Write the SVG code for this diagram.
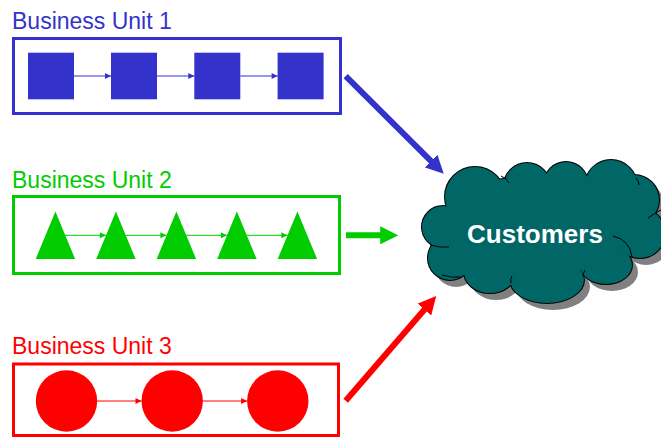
<svg xmlns="http://www.w3.org/2000/svg" width="661" height="439" viewBox="0 0 661 439">
  <style>
    .label { font-family: "Liberation Sans", Arial, sans-serif; font-size: 23px; }
    .blue { fill: #3333CC; }
    .green { fill: #00CC00; }
    .red { fill: #FF0000; }
    .frame { fill: none; stroke-width: 3; }
    .thin { stroke-width: 1; fill: none; }
    .big { stroke-width: 6; fill: none; }
    .fold { fill: none; stroke: #000000; stroke-width: 1; }
    .cloud-text { font-family: "Liberation Sans", Arial, sans-serif; font-size: 26px; font-weight: bold; fill: #FFFFFF; }
  </style>
  <defs>
    <!-- small flow arrowheads -->
    <marker id="smallBlue" viewBox="0 0 10 10" refX="10" refY="5" markerUnits="userSpaceOnUse" markerWidth="8" markerHeight="6" orient="auto">
      <path d="M0,0 L10,5 L0,10 z" fill="#3333CC"/>
    </marker>
    <marker id="smallGreen" viewBox="0 0 10 10" refX="10" refY="5" markerUnits="userSpaceOnUse" markerWidth="8" markerHeight="6" orient="auto">
      <path d="M0,0 L10,5 L0,10 z" fill="#00CC00"/>
    </marker>
    <marker id="smallRed" viewBox="0 0 10 10" refX="10" refY="5" markerUnits="userSpaceOnUse" markerWidth="8" markerHeight="6" orient="auto">
      <path d="M0,0 L10,5 L0,10 z" fill="#FF0000"/>
    </marker>
    <!-- heavy arrowheads toward the cloud -->
    <marker id="bigBlue" viewBox="0 0 10 10" refX="1" refY="5" markerWidth="3" markerHeight="3" orient="auto">
      <path d="M0,0 L10,5 L0,10 z" fill="#3333CC"/>
    </marker>
    <marker id="bigGreen" viewBox="0 0 10 10" refX="1" refY="5" markerWidth="3" markerHeight="3" orient="auto">
      <path d="M0,0 L10,5 L0,10 z" fill="#00CC00"/>
    </marker>
    <marker id="bigRed" viewBox="0 0 10 10" refX="1" refY="5" markerWidth="3" markerHeight="3" orient="auto">
      <path d="M0,0 L10,5 L0,10 z" fill="#FF0000"/>
    </marker>
    <!-- cloud built from overlapping lobes -->
    <g id="lobes">
      <circle cx="443" cy="227" r="21"/>
      <circle cx="475" cy="197" r="30"/>
      <circle cx="527" cy="186" r="23"/>
      <circle cx="566" cy="184" r="22"/>
      <circle cx="611" cy="186" r="26"/>
      <circle cx="634" cy="200" r="25"/>
      <circle cx="640" cy="233" r="25"/>
      <ellipse cx="606" cy="265" rx="26" ry="19"/>
      <ellipse cx="547" cy="280" rx="37" ry="23"/>
      <ellipse cx="490" cy="272" rx="26" ry="21"/>
      <circle cx="450" cy="258" r="22"/>
      <ellipse cx="540" cy="225" rx="95" ry="50"/>
    </g>
  </defs>

  <!-- Business Unit 1 -->
  <g id="bu1">
    <text class="label blue" x="12" y="29">Business Unit 1</text>
    <rect class="frame" x="13.5" y="38.5" width="327" height="75" stroke="#3333CC"/>
    <rect class="blue" x="28" y="52.7" width="46" height="46.6"/>
    <rect class="blue" x="111" y="52.7" width="46" height="46.6"/>
    <rect class="blue" x="194.3" y="52.7" width="46" height="46.6"/>
    <rect class="blue" x="277.6" y="52.7" width="46" height="46.6"/>
  </g>

  <!-- Business Unit 2 -->
  <g id="bu2">
    <text class="label green" x="12" y="188">Business Unit 2</text>
    <rect class="frame" x="13.5" y="196.5" width="326" height="77" stroke="#00CC00"/>
    <polygon class="green" points="55.4,211.6 75.1,259 35.7,259"/>
    <polygon class="green" points="115.9,211.6 135.6,259 96.2,259"/>
    <polygon class="green" points="176.4,211.6 196.1,259 156.7,259"/>
    <polygon class="green" points="236.9,211.6 256.6,259 217.2,259"/>
    <polygon class="green" points="297.4,211.6 317.1,259 277.7,259"/>
  </g>

  <!-- Business Unit 3 -->
  <g id="bu3">
    <text class="label red" x="12" y="354">Business Unit 3</text>
    <rect class="frame" x="13.5" y="364" width="325" height="71.5" stroke="#FF0000"/>
    <circle class="red" cx="66.5" cy="401" r="30.7"/>
    <circle class="red" cx="172.2" cy="401" r="30.7"/>
    <circle class="red" cx="277.8" cy="401" r="30.7"/>
  </g>

  <!-- Customers cloud: shadow, outline, fill, then the inner folds -->
  <g id="customers">
    <use href="#lobes" transform="translate(6,7)" fill="#808080"/>
    <use href="#lobes" fill="#000000" stroke="#000000" stroke-width="2"/>
    <use href="#lobes" fill="#006666"/>
    <path class="fold" d="M613,236 Q630,240 632,257"/>
    <path class="fold" d="M648,218 Q655,213 661,210"/>
    <path class="fold" d="M636,178 Q639,181 639,185"/>
    <path class="fold" d="M501,176 Q507,178 509,183"/>
    <path class="fold" d="M430,245 Q440,248 449,247"/>
    <path class="fold" d="M442,275 Q452,278 461,277"/>
    <path class="fold" d="M583,277 Q583,273 585,270"/>
    <path class="fold" d="M511,283 Q510,279 512,276"/>
    <text class="cloud-text" x="535" y="242.5" text-anchor="middle">Customers</text>
  </g>

  <!-- Connectors -->
  <g id="connectors">
    <g stroke="#3333CC" class="thin">
      <line x1="74" y1="76" x2="111" y2="76" marker-end="url(#smallBlue)"/>
      <line x1="157" y1="76" x2="194.3" y2="76" marker-end="url(#smallBlue)"/>
      <line x1="240.3" y1="76" x2="277.6" y2="76" marker-end="url(#smallBlue)"/>
    </g>
    <g stroke="#00CC00" class="thin">
      <line x1="65.2" y1="235.3" x2="105.9" y2="235.3" marker-end="url(#smallGreen)"/>
      <line x1="125.7" y1="235.3" x2="166.4" y2="235.3" marker-end="url(#smallGreen)"/>
      <line x1="186.2" y1="235.3" x2="226.9" y2="235.3" marker-end="url(#smallGreen)"/>
      <line x1="246.7" y1="235.3" x2="287.4" y2="235.3" marker-end="url(#smallGreen)"/>
    </g>
    <g stroke="#FF0000" class="thin">
      <line x1="97.2" y1="401" x2="141.5" y2="401" marker-end="url(#smallRed)"/>
      <line x1="202.9" y1="401" x2="247.1" y2="401" marker-end="url(#smallRed)"/>
    </g>
    <line class="big" stroke="#3333CC" x1="345.7" y1="76" x2="432.3" y2="162.3" marker-end="url(#bigBlue)"/>
    <line class="big" stroke="#00CC00" x1="346" y1="235.3" x2="382" y2="235.3" marker-end="url(#bigGreen)"/>
    <line class="big" stroke="#FF0000" x1="345.7" y1="400.7" x2="425.6" y2="308.2" marker-end="url(#bigRed)"/>
  </g>
</svg>
